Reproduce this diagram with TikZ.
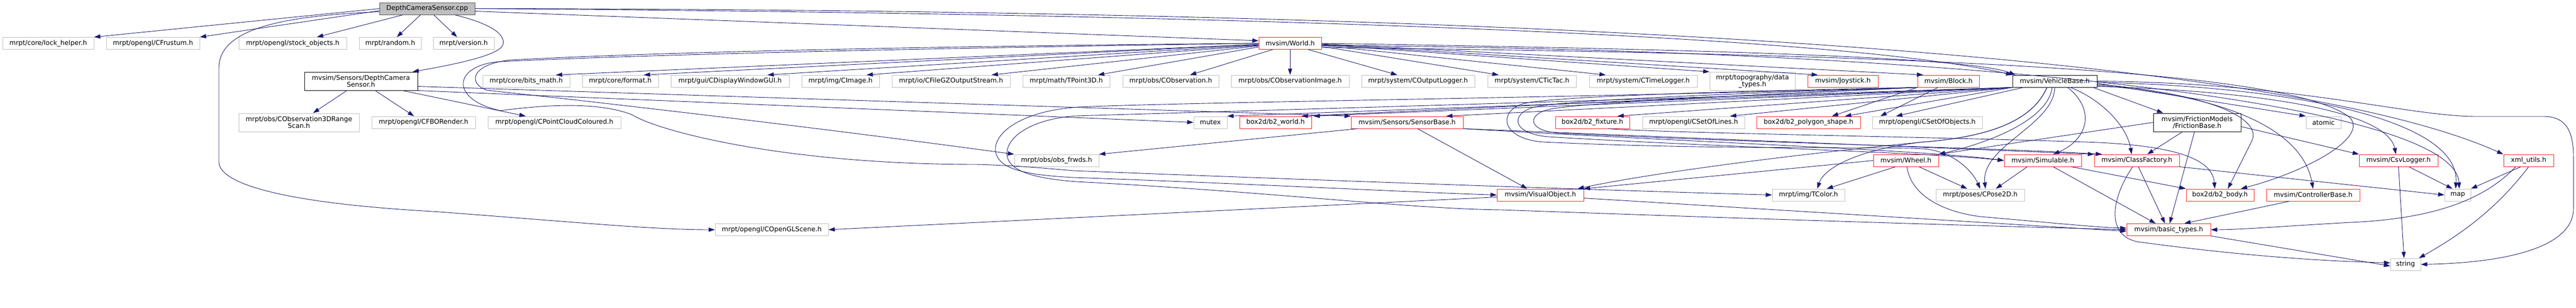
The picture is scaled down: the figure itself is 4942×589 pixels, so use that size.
\documentclass[tikz,border=0pt]{standalone}
\usepackage{fontspec}
\newfontfamily\nf{DejaVu Sans}
\usetikzlibrary{arrows.meta,calc}
\definecolor{edgeblue}{HTML}{191970}
\definecolor{grey75}{HTML}{BFBFBF}
\definecolor{grey40}{HTML}{555555}
\definecolor{incred}{HTML}{FF2020}
\begin{document}
\begin{tikzpicture}[x=1pt,y=-1pt,
  box/.style={rectangle, draw, line width=1pt, inner sep=0pt, align=center,
    font=\nf\fontsize{12.6pt}{13.3pt}\selectfont, text=black, minimum height=23pt},
  gnode/.style={box, draw=grey75},
  rnode/.style={box, draw=incred},
  bnode/.style={box, draw=black},
  cppnode/.style={box, draw=grey40, fill=grey75},
  twoline/.style={minimum height=35pt},
  dep/.style={draw=edgeblue, line width=0.9pt, -{Triangle[length=12pt,width=8pt]}},
]
\fill[white] (0,0) rectangle (4942,589);
\useasboundingbox (0,0) rectangle (4942,589);

% ---------------- nodes ----------------
\node[cppnode, minimum width=183pt] (cpp) at (819.5,16.5) {DepthCameraSensor.cpp};
\node[gnode, minimum width=175pt] (lock) at (92.5,83) {mrpt/core/lock\_helper.h};
\node[gnode, minimum width=179pt] (frustum) at (293.5,83) {mrpt/opengl/CFrustum.h};
\node[gnode, minimum width=207pt] (stock) at (561.5,83) {mrpt/opengl/stock\_objects.h};
\node[gnode, minimum width=119pt] (random) at (748.5,83) {mrpt/random.h};
\node[gnode, minimum width=117pt] (version) at (889.5,83) {mrpt/version.h};
\node[rnode, minimum width=120pt] (world) at (2475,83) {mvsim/World.h};
\node[bnode, twoline, minimum width=217pt] (dcs) at (692.5,155.5) {mvsim/Sensors/DepthCamera\\Sensor.h};
\node[gnode, twoline, minimum width=231pt] (obs3d) at (573.5,234.5) {mrpt/obs/CObservation3DRange\\Scan.h};
\node[gnode, minimum width=199pt] (fbo) at (812.5,234.5) {mrpt/opengl/CFBORender.h};
\node[gnode, minimum width=255pt] (pcc) at (1063.5,234.5) {mrpt/opengl/CPointCloudColoured.h};
\node[gnode, minimum width=167pt] (bits) at (1009.5,155.5) {mrpt/core/bits\_math.h};
\node[gnode, minimum width=146pt] (format) at (1190,155.5) {mrpt/core/format.h};
\node[gnode, minimum width=227pt] (gui) at (1400.5,155.5) {mrpt/gui/CDisplayWindowGUI.h};
\node[gnode, minimum width=149pt] (cimage) at (1612.5,155.5) {mrpt/img/CImage.h};
\node[gnode, minimum width=227pt] (gz) at (1824.5,155.5) {mrpt/io/CFileGZOutputStream.h};
\node[gnode, minimum width=167pt] (tpoint) at (2045.5,155.5) {mrpt/math/TPoint3D.h};
\node[gnode, minimum width=184pt] (cobs) at (2246,155.5) {mrpt/obs/CObservation.h};
\node[gnode, minimum width=226pt] (cobsimg) at (2475,155.5) {mrpt/obs/CObservationImage.h};
\node[gnode, minimum width=217pt] (logger) at (2720.5,155.5) {mrpt/system/COutputLogger.h};
\node[gnode, minimum width=170pt] (tictac) at (2939,155.5) {mrpt/system/CTicTac.h};
\node[gnode, minimum width=207pt] (timelogger) at (3152.5,155.5) {mrpt/system/CTimeLogger.h};
\node[gnode, twoline, minimum width=164pt] (topo) at (3362,155.5) {mrpt/topography/data\\\_types.h};
\node[rnode, minimum width=135pt] (joystick) at (3535.5,155.5) {mvsim/Joystick.h};
\node[rnode, minimum width=118pt] (block) at (3738,155.5) {mvsim/Block.h};
\node[bnode, minimum width=162pt] (vehicle) at (3942,155.5) {mvsim/VehicleBase.h};
\node[gnode, minimum width=217pt] (glscene) at (1480.5,440) {mrpt/opengl/COpenGLScene.h};
\node[gnode, minimum width=162pt] (obsfrwds) at (2027,307.5) {mrpt/obs/obs\_frwds.h};
\node[gnode, minimum width=64pt] (mutex) at (2322,234.5) {mutex};
\node[rnode, minimum width=138pt] (b2world) at (2447,234.5) {box2d/b2\_world.h};
\node[rnode, minimum width=215pt] (sensorbase) at (2699.5,234.5) {mvsim/Sensors/SensorBase.h};
\node[rnode, minimum width=142pt] (b2fixture) at (3055,234.5) {box2d/b2\_fixture.h};
\node[gnode, minimum width=196pt] (setoflines) at (3249,234.5) {mrpt/opengl/CSetOfLines.h};
\node[rnode, minimum width=199pt] (polygon) at (3469.5,234.5) {box2d/b2\_polygon\_shape.h};
\node[gnode, minimum width=211pt] (setofobjects) at (3697.5,234.5) {mrpt/opengl/CSetOfObjects.h};
\node[bnode, twoline, minimum width=168pt] (friction) at (4215,234.5) {mvsim/FrictionModels\\/FrictionBase.h};
\node[gnode, minimum width=67pt] (atomic) at (4457.5,234.5) {atomic};
\node[rnode, minimum width=125pt] (wheel) at (3656.5,307.5) {mvsim/Wheel.h};
\node[rnode, minimum width=148pt] (simulable) at (3919,307.5) {mvsim/Simulable.h};
\node[rnode, minimum width=163pt] (classfactory) at (4099.5,307.5) {mvsim/ClassFactory.h};
\node[rnode, minimum width=151pt] (csvlogger) at (4601.5,307.5) {mvsim/CsvLogger.h};
\node[rnode, minimum width=96pt] (xml) at (4851,307.5) {xml\_utils.h};
\node[rnode, minimum width=166pt] (visual) at (2955,373.5) {mvsim/VisualObject.h};
\node[gnode, minimum width=139pt] (tcolor) at (3469.5,373.5) {mrpt/img/TColor.h};
\node[gnode, minimum width=170pt] (cpose) at (3799,373.5) {mrpt/poses/CPose2D.h};
\node[rnode, minimum width=130pt] (b2body) at (4259,373.5) {box2d/b2\_body.h};
\node[rnode, minimum width=179pt] (controller) at (4437.5,373.5) {mvsim/ControllerBase.h};
\node[gnode, minimum width=50pt] (map) at (4715,373.5) {map};
\node[rnode, minimum width=161pt] (basic) at (4160.5,440) {mvsim/basic\_types.h};
\node[gnode, minimum width=58pt] (string) at (4615,506.5) {string};

% ---------------- edges: DepthCameraSensor.cpp ----------------
\draw[dep] (cpp.west) -- (lock.north east);
\draw[dep] ([yshift=-4pt]cpp.west) -- (frustum.north east);
\draw[dep] (cpp) -- (stock);
\draw[dep] (cpp) -- (random);
\draw[dep] (cpp) -- (version);
\draw[dep] ([yshift=-5pt]cpp.east) -- ([yshift=5pt]world.west);
\draw[dep] ([xshift=53pt]cpp.south) .. controls (940,45) and (970,65) .. (965,85) .. controls (960,105) and (880,122) .. ([xshift=-10pt]dcs.north east);
\draw[dep] ([yshift=-6pt]cpp.west) .. controls (560,30) and (420,50) .. (420,130) -- (420,310) .. controls (420,355) and (560,390) .. (830,405) .. controls (1100,425) and (1250,440) .. (glscene.west);
\draw[dep] (cpp.east) .. controls (2200,25) and (3500,60) .. (vehicle.north west);
\draw[dep] (cpp.east) .. controls (2500,18) and (4300,70) .. (xml.north west);

% ---------------- DepthCameraSensor.h ----------------
\draw[dep] (dcs) -- (obs3d);
\draw[dep] (dcs) -- (fbo);
\draw[dep] ([xshift=80pt]dcs.south) -- ([xshift=-55pt]pcc.north);
\draw[dep] ([yshift=-10pt]dcs.east) -- (sensorbase.north west);
\draw[dep] (dcs.south east) -- (mutex.west);

% ---------------- World.h ----------------
\draw[dep] ([yshift=-2pt]world.west) -- ([xshift=57pt]bits.north);
\draw[dep] ([yshift=-2pt]world.west) -- ([xshift=45pt]format.north);
\draw[dep] ([yshift=-3pt]world.west) -- ([xshift=72pt]gui.north);
\draw[dep] ([yshift=-4pt]world.west) -- ([xshift=50pt]cimage.north);
\draw[dep] ([yshift=-5pt]world.west) -- ([xshift=78pt]gz.north);
\draw[dep] ([yshift=-7pt]world.west) -- ([xshift=61pt]tpoint.north);
\draw[dep] ([xshift=27pt]world.south west) -- ([xshift=37pt]cobs.north);
\draw[dep] (world.south) -- (cobsimg.north);
\draw[dep] ([xshift=35pt]world.south) -- ([xshift=-40pt]logger.north);
\draw[dep] ([yshift=-6pt]world.east) -- ([xshift=-64pt]tictac.north);
\draw[dep] ([yshift=-4pt]world.east) -- ([xshift=-72pt]timelogger.north);
\draw[dep] ([yshift=-3pt]world.east) -- (topo.north west);
\draw[dep] ([yshift=-2pt]world.east) -- ([xshift=-48pt]joystick.north);
\draw[dep] ([yshift=-1pt]world.east) -- ([xshift=11pt]block.north west);
\draw[dep] (world.east) .. controls (3300,95) and (3780,110) .. ([xshift=6pt]vehicle.north west);
\draw[dep] (world.west) .. controls (1800,88) and (1250,100) .. (980,115) .. controls (905,122) and (895,160) .. (935,173) .. controls (1300,212) and (1700,262) .. (obsfrwds.north west);
\draw[dep] (world.west) .. controls (1800,92) and (1250,104) .. (960,118) .. controls (870,124) and (860,190) .. (960,212) .. controls (1050,200) and (1150,195) .. (1213,220) .. controls (1260,250) and (1500,315) .. (1873,315) .. controls (1950,317) and (2000,322) .. (2060,327) .. controls (2700,352) and (3200,368) .. (tcolor.west);
\draw[dep] ([yshift=-4pt]world.east) .. controls (3800,95) and (4710,200) .. ([xshift=3pt]map.north);
\draw[dep] ([yshift=-8pt]world.east) .. controls (3800,105) and (4400,140) .. (4508,225) .. controls (4545,265) and (4420,330) .. ([xshift=40pt]b2body.north);

% ---------------- SensorBase.h ----------------
\draw[dep] ([xshift=-95pt]sensorbase.south) -- (obsfrwds.north east);
\draw[dep] ([xshift=20pt]sensorbase.south) -- ([xshift=-25pt]visual.north);
\draw[dep] (sensorbase.south east) .. controls (3300,275) and (3700,288) .. (simulable.west);
\draw[dep] (sensorbase.south east) -- (classfactory.north west);

% ---------------- Block.h ----------------
\draw[dep] (block.south west) -- ([xshift=50pt]b2world.north);
\draw[dep] (block.south west) -- ([xshift=45pt]polygon.north);
\draw[dep] ([xshift=-20pt]block.south) -- ([xshift=-90pt]setofobjects.north);
\draw[dep] (block.south west) .. controls (3300,180) and (3000,192) .. (2945,205) .. controls (2900,215) and (2895,255) .. (2970,262) .. controls (3300,282) and (3700,292) .. (simulable.west);
\draw[dep] (block.south west) .. controls (3300,175) and (2980,185) .. (2925,198) .. controls (2875,210) and (2875,265) .. (2960,272) .. controls (3300,288) and (3600,280) .. (3690,285) .. controls (3750,290) and (3785,330) .. (cpose.north);
\draw[dep] (block.south west) .. controls (3300,185) and (3020,198) .. (2970,210) .. controls (2930,220) and (2930,250) .. (2990,255) .. controls (3400,275) and (3800,282) .. ([xshift=15pt]classfactory.north west);
\draw[dep] (block.south west) .. controls (3000,188) and (2300,195) .. (2070,205) .. controls (1960,212) and (1905,255) .. (1910,290) .. controls (1915,322) and (1960,335) .. (2060,340) .. controls (2400,352) and (2700,368) .. (visual.west);

% ---------------- VehicleBase.h ----------------
\draw[dep] ([xshift=3pt]vehicle.south west) -- (mutex.north east);
\draw[dep] (vehicle.south west) -- ([xshift=73pt]b2world.north);
\draw[dep] (vehicle.south west) -- ([xshift=75pt]sensorbase.north);
\draw[dep] (vehicle.south west) -- ([xshift=48pt]b2fixture.north);
\draw[dep] (vehicle.south west) -- ([xshift=70pt]setoflines.north);
\draw[dep] (vehicle.south west) -- ([xshift=70pt]polygon.north);
\draw[dep] ([xshift=-60pt]vehicle.south) -- ([xshift=-60pt]setofobjects.north);
\draw[dep] ([xshift=-8pt]vehicle.south east) -- ([xshift=-65pt]friction.north);
\draw[dep] ([yshift=-4pt]vehicle.east) -- (atomic.north west);
\draw[dep] ([xshift=-5pt]vehicle.south) .. controls (3930,225) and (3830,270) .. (wheel.north east);
\draw[dep] ([xshift=25pt]vehicle.south) .. controls (4025,215) and (4000,270) .. ([xshift=20pt]simulable.north);
\draw[dep] ([xshift=30pt]vehicle.south) .. controls (4030,190) and (4080,240) .. ([xshift=-10pt]classfactory.north);
\draw[dep] (vehicle.south) .. controls (3940,240) and (3800,280) .. ([xshift=10pt]cpose.north);
\draw[dep] ([xshift=-15pt]vehicle.south) .. controls (3900,230) and (3820,262) .. (3690,272) .. controls (3400,300) and (3150,335) .. ([xshift=-12pt]visual.north east);
\draw[dep] ([xshift=-15pt]vehicle.south) .. controls (3900,230) and (3820,262) .. (3690,272) .. controls (3570,285) and (3500,320) .. ([xshift=17pt]tcolor.north);
\draw[dep] ([yshift=-6pt]vehicle.east) .. controls (4250,180) and (4340,230) .. (4320,270) .. controls (4300,310) and (4285,340) .. ([xshift=15pt]b2body.north);
\draw[dep] ([yshift=-8pt]vehicle.east) .. controls (4300,185) and (4420,260) .. (controller.north);
\draw[dep] ([yshift=-10pt]vehicle.east) .. controls (4350,175) and (4580,215) .. ([xshift=-5pt]csvlogger.north);
\draw[dep] ([yshift=-2pt]vehicle.east) .. controls (4450,168) and (4720,240) .. ([xshift=-4pt]map.north);
\draw[dep] (vehicle.east) .. controls (4400,158) and (4620,223) .. (4750,223) -- (4880,223) .. controls (4925,223) and (4937,255) .. (4937,300) -- (4937,400) .. controls (4937,470) and (4820,503) .. (string.east);
\draw[dep] (vehicle.south west) .. controls (3000,195) and (2300,215) .. (2065,222) .. controls (1975,228) and (1928,265) .. (1932,298) .. controls (1936,328) and (1985,342) .. (2065,348) .. controls (2450,368) and (2700,400) .. (2880,402) .. controls (3300,417) and (3700,430) .. (basic.west);

% ---------------- FrictionBase.h ----------------
\draw[dep] ([xshift=-28pt]friction.south) -- ([xshift=20pt]classfactory.north);
\draw[dep] ([xshift=-5pt]friction.south) -- ([xshift=2pt]basic.north);
\draw[dep] (friction.west) -- (wheel.north east);
\draw[dep] ([yshift=-8pt]friction.east) -- (csvlogger.north west);

% ---------------- Wheel.h ----------------
\draw[dep] ([xshift=-20pt]wheel.south) -- ([xshift=35pt]tcolor.north);
\draw[dep] ([xshift=25pt]wheel.south) -- ([xshift=-25pt]cpose.north);
\draw[dep] (wheel.west) -- (visual.north east);
\draw[dep] ([xshift=2pt]wheel.south) .. controls (3665,370) and (3720,405) .. (3800,415) .. controls (3950,428) and (4030,436) .. ([yshift=3pt]basic.west);

% ---------------- Simulable.h ----------------
\draw[dep] ([xshift=-30pt]simulable.south) -- ([xshift=30pt]cpose.north);
\draw[dep] ([xshift=20pt]simulable.south) -- ([xshift=-25pt]basic.north);
\draw[dep] ([xshift=55pt]simulable.south) -- (b2body.north west);

% ---------------- box2d ----------------
\draw[dep] ([xshift=30pt]b2fixture.south) .. controls (3200,255) and (3700,262) .. (4000,272) .. controls (4190,278) and (4245,310) .. ([xshift=-10pt]b2body.north);

% ---------------- ClassFactory.h and the rest ----------------
\draw[dep] (classfactory.south east) -- (map.west);
\draw[dep] ([xshift=-8pt]classfactory.south) .. controls (4050,380) and (4040,450) .. (4100,463) .. controls (4300,490) and (4450,500) .. ([yshift=3pt]string.west);
\draw[dep] ([xshift=3pt]classfactory.south) -- ([xshift=-7pt]basic.north);
\draw[dep] ([xshift=-45pt]controller.south) -- ([xshift=30pt]basic.north);
\draw[dep] ([xshift=20pt]csvlogger.south) -- ([xshift=-10pt]map.north);
\draw[dep] (csvlogger.south) -- ([xshift=-3pt]string.north);
\draw[dep] ([xshift=-15pt]xml.south) -- (map.north east);
\draw[dep] (xml.south) .. controls (4790,400) and (4720,450) .. ([xshift=-4pt]string.north east);
\draw[dep] ([xshift=-25pt]xml.south) .. controls (4760,390) and (4650,420) .. (4510,426) .. controls (4400,432) and (4300,440) .. (basic.east);
\draw[dep] (basic.south east) -- ([yshift=-3pt]string.west);
\draw[dep] ([yshift=-4pt]visual.west) -- (glscene.east);
\draw[dep] ([yshift=-6pt]visual.east) -- ([yshift=-3pt]basic.west);
\end{tikzpicture}
\end{document}
